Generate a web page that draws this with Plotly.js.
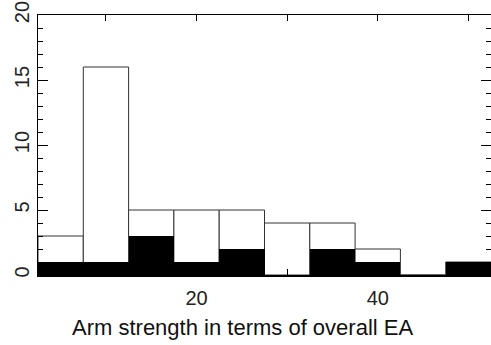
<!DOCTYPE html>
<html>
<head>
<meta charset="utf-8">
<script src="https://cdn.plot.ly/plotly-3.0.1.min.js"></script>
<style>
  html, body { margin: 0; padding: 0; background: #fff; }
  #chart { width: 491px; height: 345px; }
</style>
</head>
<body>
<div id="chart"></div>
<script>
// Bin centres (bin width 5) for arm strength, in % of overall EA
const binCenters = [5, 10, 15, 20, 25, 30, 35, 40, 45, 50];
// All objects per bin (open histogram)
const totalCounts = [3, 16, 5, 5, 5, 4, 4, 2, 0, 1];
// Subset per bin (filled histogram)
const subsetCounts = [1, 1, 3, 1, 2, 0, 2, 1, 0, 1];

const xTickVals = [10, 20, 30, 40, 50];
const xTickText = ['', '20', '', '40', ''];
const yTickVals = [0, 5, 10, 15, 20];
const xLabel = 'Arm strength in terms of overall EA';

const binWidth = binCenters.map(() => 5);

const traces = [
  {
    type: 'bar',
    x: binCenters,
    y: totalCounts,
    width: binWidth,
    marker: { color: '#ffffff', line: { color: '#333333', width: 1 } },
    hoverinfo: 'x+y'
  },
  {
    type: 'bar',
    x: binCenters,
    y: subsetCounts,
    width: binWidth,
    marker: { color: '#000000', line: { color: '#000000', width: 0 } },
    hoverinfo: 'x+y'
  }
];

const fontFamily = 'Liberation Sans, Arial, Helvetica, sans-serif';
const tickFont = { family: fontFamily, size: 20, color: '#222' };

const layout = {
  width: 491,
  height: 345,
  margin: { l: 38, r: 0, t: 15, b: 70 },
  paper_bgcolor: '#ffffff',
  plot_bgcolor: '#ffffff',
  showlegend: false,
  barmode: 'overlay',
  bargap: 0,
  xaxis: {
    range: [2.5, 52.5],
    tickmode: 'array',
    tickvals: xTickVals,
    ticktext: xTickText,
    ticks: 'inside',
    ticklen: 6,
    tickwidth: 1,
    tickcolor: '#000',
    ticklabelstandoff: 4,
    showline: true,
    linecolor: '#000',
    linewidth: 1.5,
    mirror: 'ticks',
    showgrid: false,
    zeroline: false,
    tickfont: tickFont
  },
  yaxis: {
    range: [0, 20],
    tickmode: 'array',
    tickvals: yTickVals,
    ticks: 'inside',
    ticklen: 10,
    tickwidth: 1,
    tickcolor: '#000',
    tickangle: -90,
    minor: { dtick: 1, ticks: 'inside', ticklen: 5, tickwidth: 1, tickcolor: '#000' },
    showline: true,
    linecolor: '#000',
    linewidth: 1.5,
    mirror: 'ticks',
    showgrid: false,
    zeroline: false,
    tickfont: tickFont
  },
  // x-axis label, placed slightly left of the plot centre
  annotations: [{
    text: xLabel,
    xref: 'paper', yref: 'paper',
    x: 0.4525, y: -0.2,
    xanchor: 'center', yanchor: 'middle',
    showarrow: false,
    font: { family: fontFamily, size: 22, color: '#111' }
  }]
};

Plotly.newPlot('chart', traces, layout, { staticPlot: true, displayModeBar: false });
</script>
</body>
</html>
